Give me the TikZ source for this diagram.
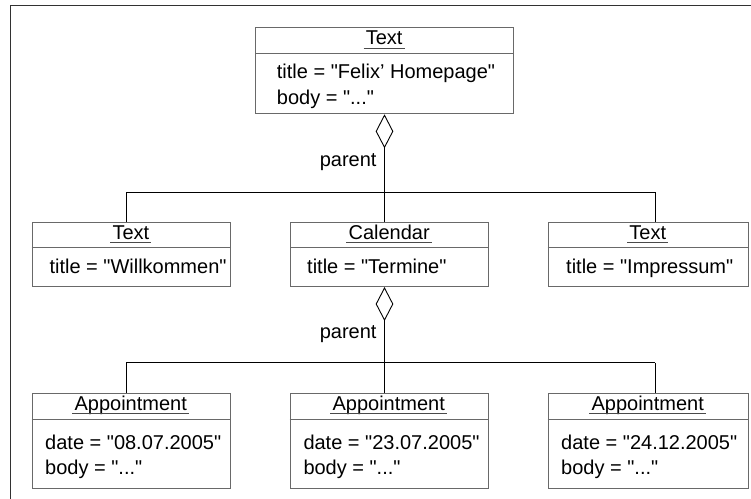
\documentclass[tikz,border=0pt]{standalone}
\usepackage{fontspec}
\setmainfont{Liberation Sans}[Ligatures=TeXOff]
\usetikzlibrary{arrows.meta}
\definecolor{boxline}{RGB}{105,105,105}
\definecolor{framecol}{RGB}{50,50,50}

% header of an object box: name, position, label
\newcommand\umlhead[3]{%
  \node[hdr] (#1) at (#2) {#3};
  \draw[uline] ([xshift=-2pt,yshift=-3.6pt]#1.base west) -- ([xshift=2pt,yshift=-3.6pt]#1.base east);
}
% compartment divider, 26pt below the top of a box
\newcommand\umldiv[1]{%
  \draw[objline] ([yshift=-26pt]#1.north west) -- ([yshift=-26pt]#1.north east);
}

\begin{document}
\begin{tikzpicture}[x=1pt,y=-1pt,
  font=\fontsize{20}{24}\selectfont,
  objbox/.style={draw=boxline, line width=1pt, inner sep=0pt, anchor=north west},
  objline/.style={draw=boxline, line width=1pt},
  hdr/.style={anchor=base, inner sep=0pt},
  attr/.style={anchor=base west, inner sep=0pt},
  role/.style={anchor=base east, inner sep=0pt},
  uline/.style={draw=boxline!70!black, line width=1.2pt},
  conn/.style={draw=black, line width=0.9pt},
  agg/.style={{Diamond[open,length=34pt,width=17.6pt,line width=0.9pt]}-},
  frameline/.style={draw=framecol, line width=1.3pt}
]
\useasboundingbox (0,0) rectangle (751,498);

% outer frame
\draw[frameline] (10.5,505) -- (10.5,5.8) -- (760,5.8);

% ---- root page
\node[objbox, minimum width=258.3pt, minimum height=86pt] (top) at (255,27.3) {};
\umldiv{top}
\umlhead{topH}{384.15,44.8}{Text}
\node[attr] (topA1) at (276.7,78.3) {title = "Felix’ Homepage"};
\node[attr] (topA2) at (276.7,104.3) {body = "..."};

% ---- second level
\node[objbox, minimum width=198.3pt, minimum height=64.3pt] (lt) at (31.7,221.7) {};
\umldiv{lt}
\umlhead{ltH}{130.85,239.2}{Text}
\node[attr] (ltA) at (49.3,273.3) {title = "Willkommen"};

\node[objbox, minimum width=198.3pt, minimum height=64.3pt] (cal) at (290,221.7) {};
\umldiv{cal}
\umlhead{calH}{389.15,239.2}{Calendar}
\node[attr] (calA) at (307,273.3) {title = "Termine"};

\node[objbox, minimum width=200.5pt, minimum height=64.3pt] (rt) at (547.5,221.7) {};
\umldiv{rt}
\umlhead{rtH}{647.75,239.2}{Text}
\node[attr] (rtA) at (566,273.3) {title = "Impressum"};

% ---- appointments
\node[objbox, minimum width=198pt, minimum height=94.4pt] (a1) at (31.7,393.3) {};
\umldiv{a1}
\umlhead{a1H}{130.7,410}{Appointment}
\node[attr] (a1A1) at (45,449.3) {date = "08.07.2005"};
\node[attr] (a1A2) at (45,474.3) {body = "..."};

\node[objbox, minimum width=198.4pt, minimum height=94.4pt] (a2) at (289.5,393.3) {};
\umldiv{a2}
\umlhead{a2H}{388.7,410}{Appointment}
\node[attr] (a2A1) at (303.3,449.3) {date = "23.07.2005"};
\node[attr] (a2A2) at (303.3,474.3) {body = "..."};

\node[objbox, minimum width=200.2pt, minimum height=94.4pt] (a3) at (547.6,393.3) {};
\umldiv{a3}
\umlhead{a3H}{647.7,410}{Appointment}
\node[attr] (a3A1) at (561,449.3) {date = "24.12.2005"};
\node[attr] (a3A2) at (561,474.3) {body = "..."};

% ---- aggregation: root page and its children
\coordinate (axis) at (384.5,0);
\coordinate (barL) at (126.7,192);
\coordinate (barR) at (655.8,192);
\draw[conn, agg] (axis |- top.south) -- (axis |- cal.north);
\draw[conn] (barL) -- (barR);
\draw[conn] (barL) -- (barL |- lt.north);
\draw[conn] (barR) -- (barR |- rt.north);
\node[role] (role1) at (376.7,166) {parent};

% ---- aggregation: calendar and its appointments
\coordinate (bar2L) at (126.3,362.7);
\coordinate (bar2R) at (655.2,362.7);
\draw[conn, agg] (axis |- cal.south) -- (axis |- a2.north);
\draw[conn] (bar2L) -- (bar2R);
\draw[conn] (bar2L) -- (bar2L |- a1.north);
\draw[conn] (bar2R) -- (bar2R |- a3.north);
\node[role] (role2) at (376.7,338.3) {parent};

\end{tikzpicture}
\end{document}
